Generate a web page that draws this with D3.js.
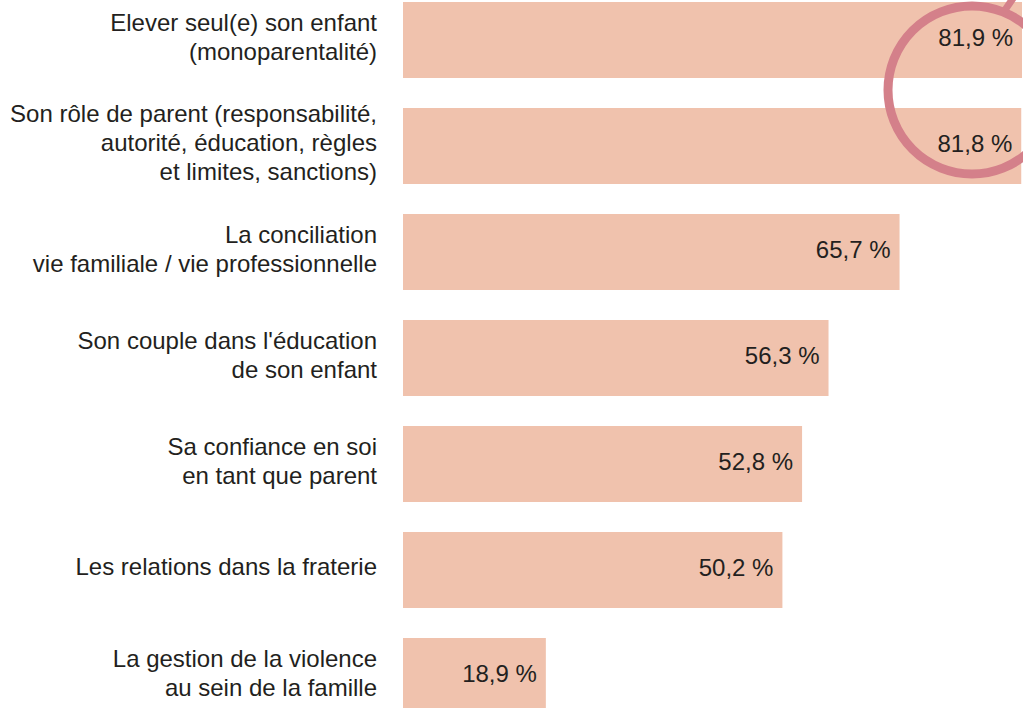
<!DOCTYPE html>
<html>
<head>
<meta charset="utf-8">
<script src="https://cdn.jsdelivr.net/npm/d3@7"></script>
<style>
  body { margin: 0; background: #fff; }
  svg { display: block; font-family: "Liberation Sans", Arial, sans-serif; }
</style>
</head>
<body>
<script>
    'use strict';

    var categories = [
        ['Elever seul(e) son enfant', '(monoparentalité)'],
        ['Son rôle de parent (responsabilité,', 'autorité, éducation, règles', 'et limites, sanctions)'],
        ['La conciliation', 'vie familiale / vie professionnelle'],
        ['Son couple dans l\'éducation', 'de son enfant'],
        ['Sa confiance en soi', 'en tant que parent'],
        ['Les relations dans la fraterie'],
        ['La gestion de la violence', 'au sein de la famille']
    ];
    var values = [81.9, 81.8, 65.7, 56.3, 52.8, 50.2, 18.9];
    var valueLabels = ['81,9 %', '81,8 %', '65,7 %', '56,3 %', '52,8 %', '50,2 %', '18,9 %'];

    var width = 1023, height = 708;
    var barFill = '#f0c2ad';
    var textFill = '#231f20';
    var ringStroke = '#d4808a';
    var fontSize = '24px';

    var svg = d3.select('body').append('svg')
        .attr('width', width)
        .attr('height', height);

    var x = d3.scaleLinear()
        .domain([0, 81.9])
        .range([403, 1022]);

    var y = d3.scaleBand()
        .domain(d3.range(categories.length))
        .range([2, 714])
        .paddingInner(0.283)
        .paddingOuter(0);

    svg.selectAll('rect.bar')
        .data(values)
        .enter().append('rect')
        .attr('class', 'bar')
        .attr('x', x(0))
        .attr('y', function (d, i) { return y(i); })
        .attr('width', function (d) { return x(d) - x(0); })
        .attr('height', y.bandwidth())
        .style('fill', barFill);

    svg.selectAll('text.value')
        .data(values)
        .enter().append('text')
        .attr('class', 'value')
        .attr('x', function (d) { return x(d) - 9; })
        .attr('y', function (d, i) { return y(i) + y.bandwidth() / 2 - 2; })
        .attr('dy', '0.35em')
        .attr('text-anchor', 'end')
        .style('font-size', fontSize)
        .style('fill', textFill)
        .text(function (d, i) { return valueLabels[i]; });

    var lineHeight = 29;
    var labels = svg.selectAll('text.label')
        .data(categories)
        .enter().append('text')
        .attr('class', 'label')
        .attr('text-anchor', 'end')
        .style('font-size', fontSize)
        .style('fill', textFill);

    labels.each(function (lines, i) {
        var cy = y(i) + y.bandwidth() / 2 - 3;
        var first = cy - (lines.length - 1) * lineHeight / 2;
        d3.select(this).selectAll('tspan')
            .data(lines)
            .enter().append('tspan')
            .attr('x', 377)
            .attr('y', function (d, j) { return first + j * lineHeight; })
            .attr('dy', '0.35em')
            .text(function (d) { return d; });
    });

    // highlight ring round the two top values
    var cx = 972, cyRing = 90, r = 84;
    svg.append('circle')
        .attr('cx', cx)
        .attr('cy', cyRing)
        .attr('r', r)
        .style('fill', 'none')
        .style('stroke', ringStroke)
        .style('stroke-width', 9);

    svg.append('line')
        .attr('x1', 1005)
        .attr('y1', 10)
        .attr('x2', 1016)
        .attr('y2', -6)
        .style('stroke', ringStroke)
        .style('stroke-width', 7);
</script>
</body>
</html>
